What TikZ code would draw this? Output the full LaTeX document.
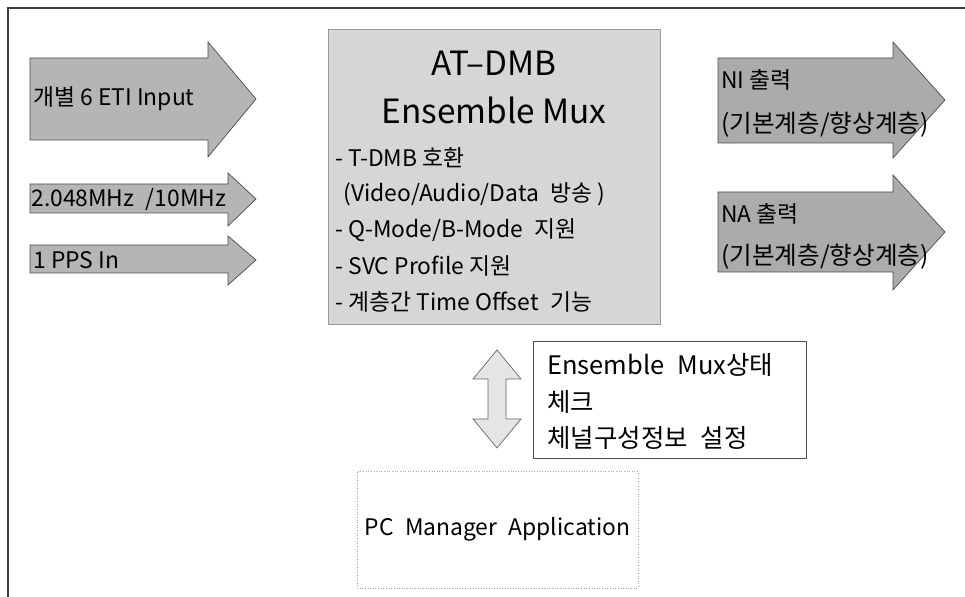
\documentclass[tikz,border=0pt]{standalone}
\usepackage{fontspec}
\setmainfont{Noto Sans CJK KR}
\usetikzlibrary{positioning}

\begin{document}
\begin{tikzpicture}[
  x = 0.02cm, y = -0.02cm,
  node distance = 1mm and 2mm,
  frame/.style   = {draw=black!75, line width=0.9pt},
  inarrow/.style = {fill=black!29, draw=black!70, line width=0.4pt},
  outarrow/.style= {fill=black!33, draw=black!70, line width=0.4pt},
  muxbox/.style  = {rectangle, fill=black!16, draw=black!40, line width=0.4pt,
                    minimum width=6.64cm, minimum height=5.9cm, inner sep=0pt},
  linkarrow/.style = {fill=black!10, draw=black!60, line width=0.4pt},
  infobox/.style = {rectangle, draw=black!70, line width=0.5pt, fill=white,
                    minimum width=5.46cm, minimum height=2.34cm, inner sep=0pt},
  pcbox/.style   = {rectangle, draw=black!35, densely dotted, line width=0.5pt,
                    minimum width=5.62cm, minimum height=2.34cm, inner sep=0pt,
                    font=\fontsize{13}{16}\selectfont},
  lbl/.style     = {anchor=west, inner sep=0pt, font=\fontsize{13}{15}\selectfont},
  title/.style   = {inner sep=0pt, font=\fontsize{19}{22}\selectfont},
  item/.style    = {anchor=west, inner sep=0pt, font=\fontsize{13}{15}\selectfont},
  info/.style    = {anchor=west, inner sep=0pt, font=\fontsize{14.5}{16}\selectfont}
]
\useasboundingbox (0,0) rectangle (965,597);

% ───────── frame ─────────
\draw[frame] (8,597) -- (8,8) -- (965,8);

% ───────── inputs ─────────
\draw[inarrow] (30,58) -- (208,58) -- (208,42) -- (256,99) -- (208,157)
               -- (208,140) -- (30,140) -- cycle;
\draw[inarrow] (30,184) -- (228,184) -- (228,173) -- (256,199) -- (228,226)
               -- (228,213) -- (30,213) -- cycle;
\draw[inarrow] (30,245) -- (228,245) -- (228,236) -- (256,260) -- (228,285)
               -- (228,273) -- (30,273) -- cycle;
\node[lbl] (eti) at (33,99)  {개별 6 ETI Input};
\node[lbl] (clk) at (31,199) {2.048MHz\enspace /10MHz};
\node[lbl] (pps) at (33,260) {1 PPS In};

% ───────── mux ─────────
\node[muxbox] (mux) at (494,177) {};
\node[title] (at)  at (494,63)  {AT–DMB};
\node[title] (ens) at (494,110) {Ensemble Mux};
\node[item] (b1) at (335,158) {- T-DMB 호환};
\node[item] (b2) at (343,194) {(Video/Audio/Data\enspace 방송 )};
\node[item] (b3) at (335,230) {- Q-Mode/B-Mode\enspace 지원};
\node[item] (b4) at (335,266) {- SVC Profile 지원};
\node[item] (b5) at (335,302) {- 계층간 Time Offset\enspace 기능};

% ───────── outputs ─────────
\draw[outarrow] (718,58) -- (893,58) -- (893,42) -- (945,100) -- (893,158)
                -- (893,143) -- (718,143) -- cycle;
\draw[outarrow] (718,192) -- (893,192) -- (893,175) -- (945,232) -- (893,290)
                -- (893,272) -- (718,272) -- cycle;
\node[lbl] (ni)  at (721,80)  {NI 출력};
\node[lbl, font=\fontsize{14}{15}\selectfont] (ni2) at (721,125) {(기본계층/향상계층)};
\node[lbl] (na)  at (721,214) {NA 출력};
\node[lbl, font=\fontsize{14}{15}\selectfont] (na2) at (721,257) {(기본계층/향상계층)};

% ───────── manager ─────────
\draw[linkarrow] (497,350) -- (521,379) -- (506,379) -- (506,419) -- (521,419)
                 -- (497,448) -- (473,419) -- (488,419) -- (488,379) -- (473,379) -- cycle;
\node[infobox] (stat) at (669.5,399.5) {};
\node[info] (s1) at (547,365) {Ensemble\enspace Mux상태};
\node[info] (s2) at (547,402) {체크};
\node[info] (s3) at (547,438) {체널구성정보\enspace 설정};
\node[pcbox] (pc) at (497.5,529.5) {PC\enspace Manager\enspace Application};

\end{tikzpicture}
\end{document}
